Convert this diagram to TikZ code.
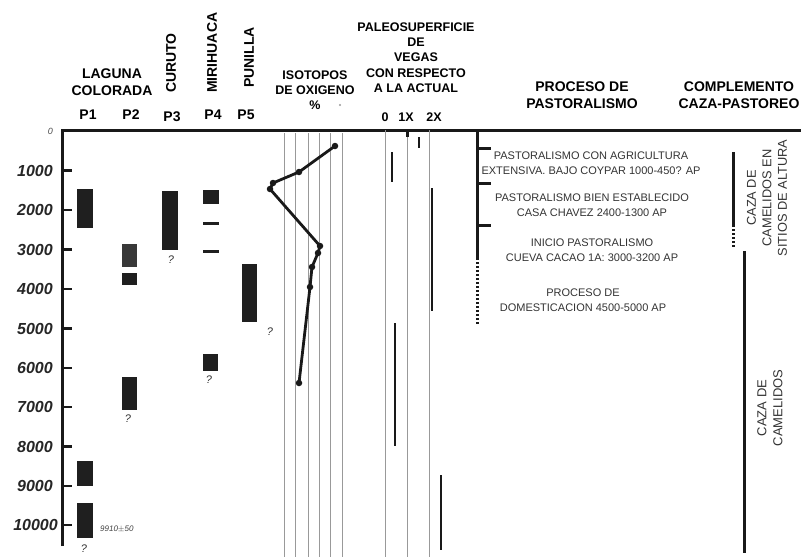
\documentclass[tikz,border=0pt]{standalone}
\usepackage{fontspec}
\setmainfont{Liberation Sans}
\begin{document}
\begin{tikzpicture}[x=1pt,y=-1pt,
  hdr/.style={font=\fontsize{14}{17}\selectfont\bfseries, align=center, inner sep=0},
  hdrs/.style={font=\fontsize{12.5}{15.3}\selectfont\bfseries, align=center, inner sep=0},
  ylab/.style={font=\fontsize{16}{16}\selectfont\bfseries\itshape, anchor=east, inner sep=0, text=black!85},
  qm/.style={font=\fontsize{11}{11}\selectfont\itshape, inner sep=0, text=black!80},
  blk/.style={fill=black!88, draw=none},
  gridl/.style={black!40, line width=0.8},
  ptxt/.style={font=\fontsize{11}{15}\selectfont, align=center, inner sep=0, text=black!80},
  rtxt/.style={font=\fontsize{12.8}{15.5}\selectfont, align=center, inner sep=0, text=black!80, rotate=90},
  vbar/.style={line width=2.8, black!90},
  axis/.style={line width=3, black!90},
  dots/.style={line width=3, black!90, dash pattern=on 2pt off 2pt},
  dot/.style={circle, fill=black!90, inner sep=0, minimum size=6.5pt}
]
\useasboundingbox (0,0) rectangle (801,557);
% headers
\node[hdr] (lag) at (112,82) {LAGUNA\\COLORADA};
\node[hdr] (p1) at (88,115) {P1};
\node[hdr] (p2) at (131,115) {P2};
\node[hdr] (p3) at (172,117) {P3};
\node[hdr] (p4) at (213,115) {P4};
\node[hdr] (p5) at (246,115) {P5};
\node[hdr, rotate=90, anchor=west] (cur) at (171,93) {CURUTO};
\node[hdr, rotate=90, anchor=west] (mir) at (212,93) {MIRIHUACA};
\node[hdr, rotate=90, anchor=west] (pun) at (249,88) {PUNILLA};
\node[hdrs] (iso) at (315,90) {ISOTOPOS\\DE OXIGENO\\\%};
\fill[black!40] (340,105) circle (1.2);
\node[hdrs] (paleo) at (416,57.5) {PALEOSUPERFICIE\\DE\\VEGAS\\CON RESPECTO\\A LA ACTUAL};
\node[hdrs] (x0) at (385,117) {0};
\node[hdrs] (x1) at (406,117) {1X};
\node[hdrs] (x2) at (434,117) {2X};
\node[hdr] (proc) at (582,95) {PROCESO DE\\PASTORALISMO};
\node[hdr] (comp) at (739,95) {COMPLEMENTO\\CAZA-PASTOREO};
% axes
\coordinate (o) at (62,130);
\coordinate (r) at (801,130);
\coordinate (b) at (62,546);
\draw[axis] (b) -- (o) -- (r);
\node[font=\fontsize{9}{9}\selectfont\itshape, inner sep=0, anchor=east, text=black!70] (l0) at (53,131) {0};
\foreach \t/\yy in {1000/170.5,2000/210,3000/249.5,4000/289,5000/328.5,6000/368,7000/407,8000/446.5,9000/486}{
  \node[ylab] (l\t) at (53,\yy) {\t};
  \draw[line width=2.5, black!90] (62,\yy) -- (72,\yy);
}
\node[ylab] (l10000) at (58,525) {10000};
\draw[line width=2.5, black!90] (62,525) -- (72,525);
% bars
\fill[blk] (77,189) rectangle (93,228);
\fill[black!78] (122,244) rectangle (137,267);
\fill[blk] (122,273) rectangle (137,285);
\fill[blk] (162,191) rectangle (178,250);
\fill[blk] (203,190) rectangle (219,204);
\fill[blk] (203,221.5) rectangle (219,224.5);
\fill[blk] (203,249.5) rectangle (219,252.5);
\fill[blk] (242,264) rectangle (257,322);
\fill[blk] (203,354) rectangle (218,371);
\fill[blk] (122,377) rectangle (137,410);
\fill[blk] (77,461) rectangle (93,486);
\fill[blk] (77,503) rectangle (93,538);
\node[qm] (q3) at (171,260) {?};
\node[qm] (q5) at (270,332) {?};
\node[qm] (q4) at (209,380) {?};
\node[qm] (q2) at (128,419) {?};
\node[qm] (q1) at (84,549) {?};
\node[font=\fontsize{8}{8}\selectfont\itshape, inner sep=0, text=black!75, anchor=west] (d) at (100,529) {9910$\pm$50};
% grid lines
\foreach \xx in {284,295,308,319,330,342}{\draw[gridl] (\xx,133) -- (\xx,557);}
\foreach \xx in {385,407,429}{\draw[gridl] (\xx,130) -- (\xx,557);}
% isotope curve
\node[dot] (i1) at (335,146) {};
\node[dot] (i2) at (299,172) {};
\node[dot] (i3) at (273,183) {};
\node[dot] (i4) at (270,189) {};
\node[dot] (i5) at (320,246) {};
\node[dot] (i6) at (318,253) {};
\node[dot] (i7) at (312,267) {};
\node[dot] (i8) at (310,287) {};
\node[dot] (i9) at (299,383) {};
\draw[line width=2.8, black!90, line join=round] (i1.center) -- (i2.center) -- (i3.center) -- (i4.center) -- (i5.center) -- (i6.center) -- (i7.center) -- (i8.center) -- (i9.center);
% paleo bars
\draw[line width=3, black!90] (407,130) -- (407,137);
\draw[vbar] (419,137) -- (419,148);
\draw[vbar] (392,152) -- (392,182);
\draw[vbar] (432,188) -- (432,311);
\draw[vbar] (395,323) -- (395,446);
\draw[vbar] (441,475) -- (441,550);
% process axis
\coordinate (pa) at (477,130);
\coordinate (pb) at (477,258);
\coordinate (pc) at (477,325);
\draw[axis] (pa) -- (pb);
\draw[dots] (pb) -- (pc);
\foreach \yy in {148,183,225.5}{\draw[axis] (477,\yy) -- (491,\yy);}
\node[ptxt] (t1) at (591,163.5) {PASTORALISMO CON AGRICULTURA\\EXTENSIVA. BAJO COYPAR 1000-450? AP};
\node[ptxt] (t2) at (592,205.5) {PASTORALISMO BIEN ESTABLECIDO\\CASA CHAVEZ 2400-1300 AP};
\node[ptxt] (t3) at (592,250) {INICIO PASTORALISMO\\CUEVA CACAO 1A: 3000-3200 AP};
\node[ptxt] (t4) at (583,300.5) {PROCESO DE\\DOMESTICACION 4500-5000 AP};
% complement column
\coordinate (ca) at (733,152);
\coordinate (cb) at (733,225);
\coordinate (cc) at (733,248);
\coordinate (cd) at (744,251);
\coordinate (ce) at (744,553);
\draw[axis] (ca) -- (cb);
\draw[dots] (cb) -- (cc);
\draw[axis] (cd) -- (ce);
\node[rtxt] (c1) at (767,198) {CAZA DE\\CAMELIDOS EN\\SITIOS DE ALTURA};
\node[rtxt, font=\fontsize{13}{16}\selectfont] (c2) at (770,408) {CAZA DE\\CAMELIDOS};
\end{tikzpicture}
\end{document}
